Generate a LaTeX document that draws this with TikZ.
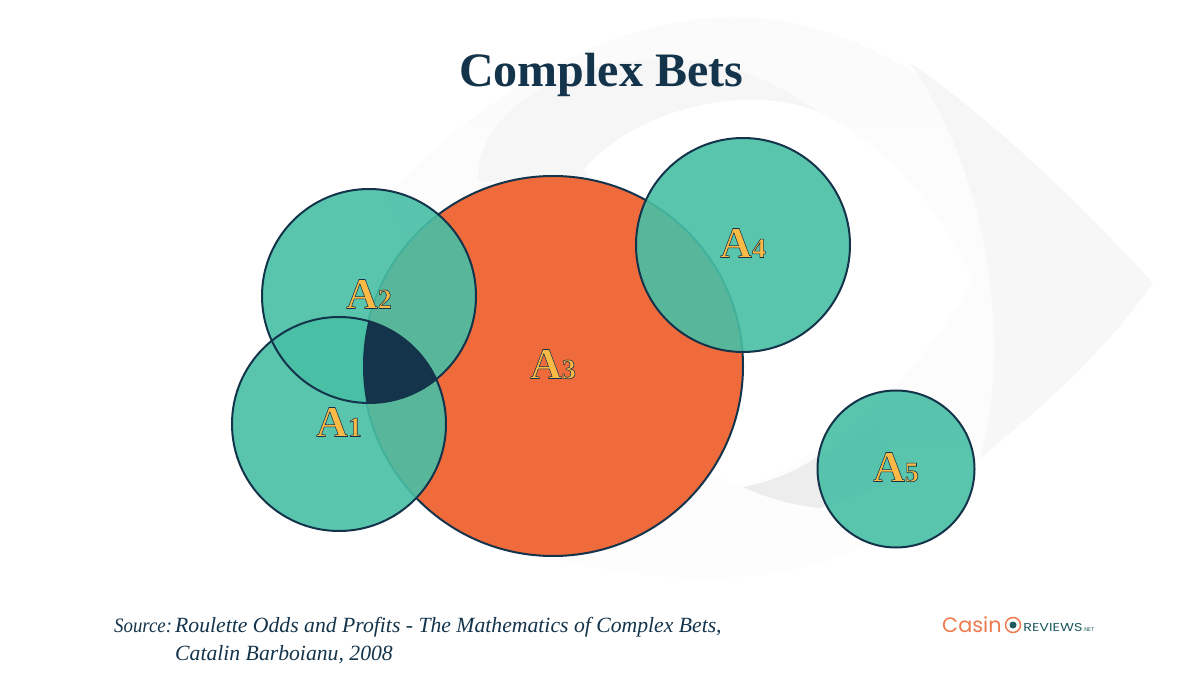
\documentclass[tikz,border=0pt]{standalone}
\usepackage{fontspec}
\setmainfont{Liberation Serif}
\newfontfamily\logofont{Poppins}
\definecolor{navy}{HTML}{14344B}
\definecolor{tealc}{HTML}{48BFA5}
\definecolor{orangec}{HTML}{F06B3B}
\definecolor{goldc}{HTML}{FBB945}
\definecolor{logoorange}{HTML}{EE7A4E}
\definecolor{logoteal}{HTML}{1F5A5E}
\newcommand{\goldlabel}[1]{\raisebox{4pt}{\special{pdf:code 2 Tr 0.55 w 0.08 0.2 0.29 RG}\fontsize{44}{44}\selectfont\bfseries A\fontsize{28}{28}\selectfont #1\special{pdf:code 0 Tr 1 w}}}
\tikzset{
  x=1pt,y=-1pt,
  setcircle/.style={circle,inner sep=0pt,outer sep=0pt,fill=tealc,fill opacity=.9,text opacity=1,text=goldc,font=\rmfamily},
  bigcircle/.style={setcircle,fill=orangec,fill opacity=1,draw=navy,line width=2pt},
  ring/.style={draw=navy,line width=2pt},
  srctext/.style={anchor=base west,inner sep=0pt,text=navy,font=\fontsize{21.7}{22}\selectfont\itshape},
}
\begin{document}
\begin{tikzpicture}
\useasboundingbox (0,0) rectangle (1200,700);
\fill[white] (0,0) rectangle (1200,700);
% background eye
\shade[top color=black!1.5,middle color=black!3.5,bottom color=black!0.8] (385,198) .. controls (480,95) and (610,17) .. (735,17)
  .. controls (880,17) and (1010,130) .. (1153,283)
  .. controls (1100,357) and (1000,450) .. (880,535)
  .. controls (800,590) and (660,585) .. (560,560) -- cycle;
\shade[top color=black!3.5,middle color=black!7,bottom color=black!3] (910,63) .. controls (1000,125) and (1080,205) .. (1153,283)
  .. controls (1100,357) and (1040,410) .. (980,457)
  .. controls (1005,380) and (1005,200) .. (910,63) -- cycle;
\fill[black!7] (743,487) .. controls (770,482) and (795,472) .. (817,457) -- (880,420) -- (900,480) -- (820,508)
  .. controls (790,505) and (765,497) .. (743,487) -- cycle;
\fill[black!3.5] (478,180) .. controls (478,120) and (540,70) .. (640,60)
  .. controls (720,52) and (790,85) .. (850,135) -- (800,200) -- (650,200) -- cycle;
\fill[white] (584,169) .. controls (640,105) and (760,80) .. (829,117)
  .. controls (890,150) and (945,215) .. (973,280)
  .. controls (950,320) and (925,355) .. (897,383)
  .. controls (860,420) and (800,470) .. (743,487) -- (700,470) -- (650,300) -- cycle;
% title
\node[anchor=base,inner sep=0pt,text=navy,font=\fontsize{48}{48}\selectfont\bfseries] (title) at (601,87) {Complex Bets};
% sets
\node[bigcircle,minimum size=380pt] (a3) at (553,366) {\goldlabel{3}};
\node[setcircle,minimum size=214pt] (a1) at (339,424) {\goldlabel{1}};
\node[setcircle,minimum size=214pt] (a2) at (369,296) {\goldlabel{2}};
\node[setcircle,minimum size=214pt] (a4) at (743,245) {\goldlabel{4}};
\node[setcircle,minimum size=157pt] (a5) at (896,469) {\goldlabel{5}};
% triple intersection
\begin{scope}
\clip (a1.center) circle[radius=107];
\clip (a2.center) circle[radius=107];
\fill[navy] (a3.center) circle[radius=190];
\end{scope}
% outlines
\draw[ring] (a1.center) circle[radius=107];
\draw[ring] (a2.center) circle[radius=107];
\draw[ring] (a4.center) circle[radius=107];
\draw[ring] (a5.center) circle[radius=78.5];
% source
\node[srctext,font=\fontsize{20.5}{22}\selectfont\itshape,xscale=.92,transform shape] (src1) at (114,632) {Source:};
\node[srctext] (src2) at (175,632) {Roulette Odds and Profits - The Mathematics of Complex Bets,};
\node[srctext] (src3) at (175,660) {Catalin Barboianu, 2008};
% logo
\node[anchor=base west,inner sep=0pt,text=logoorange,font=\logofont\fontsize{20.8}{21}\selectfont] (logo1) at (942,632) {Casin};
\node[circle,draw=logoorange,line width=1.5pt,fill=white,minimum size=15pt,inner sep=0pt] (logoeye) at (1013,625) {};
\node[circle,fill=logoteal,minimum size=7pt,inner sep=0pt] (logopupil) at (logoeye.center) {};
\node[anchor=base west,inner sep=0pt,text=logoteal,xscale=1.25,transform shape,font=\logofont\fontsize{11.5}{11.5}\selectfont] (logo2) at (1023,631) {REVIEWS};
\node[anchor=base west,inner sep=0pt,text=logoteal,font=\logofont\fontsize{5.5}{6}\selectfont] (logo3) at (1083,631) {.NET};
\end{tikzpicture}
\end{document}
